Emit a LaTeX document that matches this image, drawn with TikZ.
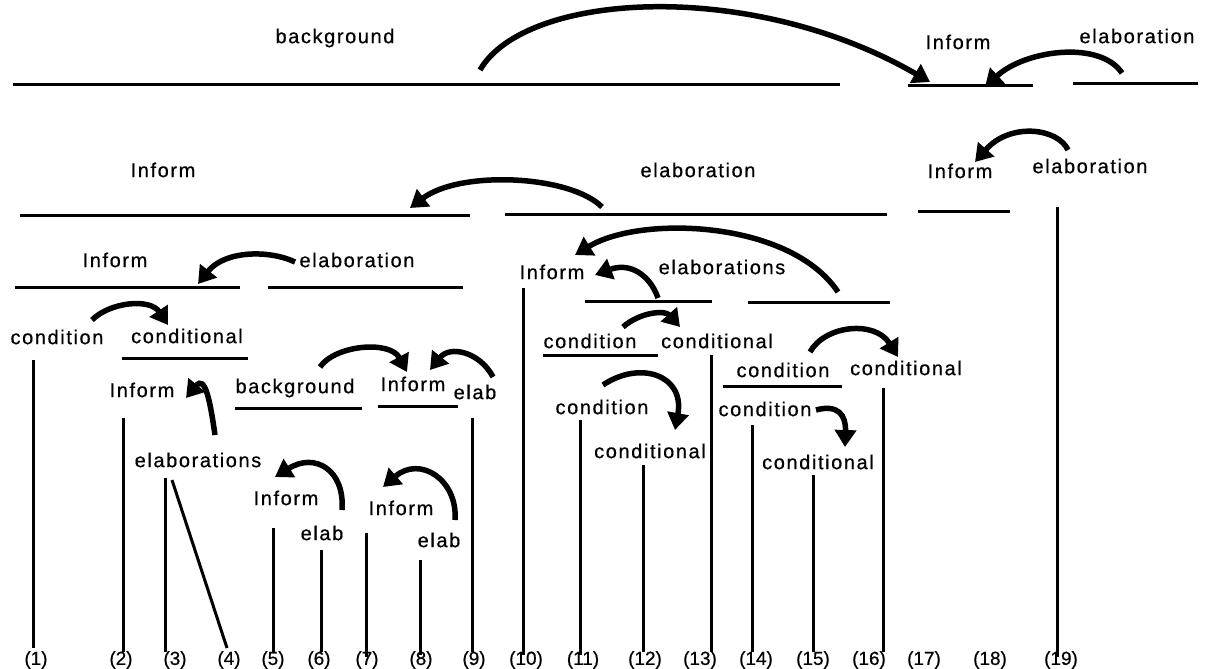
\documentclass[tikz,border=0pt]{standalone}
\usepackage{fontspec}
\setmainfont{Liberation Sans}[LetterSpace=8,FakeBold=0.6]
\newfontfamily\numfont{Liberation Sans}[FakeBold=0.6]
\usetikzlibrary{arrows.meta}

\begin{document}
\begin{tikzpicture}[x=1pt,y=-1pt,
  lbl/.style={inner sep=0pt,font=\fontsize{20}{24}\selectfont},
  num/.style={inner sep=0pt,font=\numfont\fontsize{19}{22}\selectfont},
  span/.style={line width=3pt},
  rel/.style={line width=5.5pt,-{Triangle[length=17pt,width=21pt]}}]
\useasboundingbox (0,0) rectangle (1205,669);

% ---- relation labels ----
\node[lbl] (t1)  at (335,38)  {background};
\node[lbl] (t2)  at (958,42)  {Inform};
\node[lbl] (t3)  at (1137,36) {elaboration};
\node[lbl] (t4)  at (163,170) {Inform};
\node[lbl] (t5)  at (698,170) {elaboration};
\node[lbl] (t6)  at (960,171) {Inform};
\node[lbl] (t7)  at (1090,166) {elaboration};
\node[lbl] (t8)  at (115,260) {Inform};
\node[lbl] (t9)  at (357,260) {elaboration};
\node[lbl] (t10) at (57,337)  {condition};
\node[lbl] (t11) at (187,336) {conditional};
\node[lbl] (t12) at (142,390) {Inform};
\node[lbl] (t13) at (295,388) {background};
\node[lbl] (t14) at (413,384) {Inform};
\node[lbl] (t15) at (475,392) {elab};
\node[lbl] (t16) at (198,460) {elaborations};
\node[lbl] (t17) at (286,498) {Inform};
\node[lbl] (t18) at (322,533) {elab};
\node[lbl] (t19) at (401,508) {Inform};
\node[lbl] (t20) at (439,540) {elab};
\node[lbl] (t21) at (552,272) {Inform};
\node[lbl] (t22) at (722,267) {elaborations};
\node[lbl] (t23) at (590,341) {condition};
\node[lbl] (t24) at (717,341) {conditional};
\node[lbl] (t25) at (602,407) {condition};
\node[lbl] (t26) at (650,451) {conditional};
\node[lbl] (t27) at (783,370) {condition};
\node[lbl] (t28) at (906,368) {conditional};
\node[lbl] (t29) at (765,409) {condition};
\node[lbl] (t30) at (818,462) {conditional};

% ---- span lines ----
\draw[span] (13,85) -- (840,85);
\draw[span] (908,86) -- (1033,86);
\draw[span] (1073,84) -- (1198,84);
\draw[span] (20,215) -- (470,215);
\draw[span] (505,214) -- (887,214);
\draw[span] (918,211) -- (1010,211);
\draw[span] (15,287) -- (240,287);
\draw[span] (268,287) -- (463,287);
\draw[span] (122,358) -- (248,358);
\draw[span] (235,408) -- (362,408);
\draw[span] (378,406) -- (458,406);
\draw[span] (585,301) -- (712,301);
\draw[span] (748,302) -- (890,302);
\draw[span] (543,355) -- (658,355);
\draw[span] (723,386) -- (842,386);

% ---- leaves ----
\draw[span] (33,360) -- (33,648);
\draw[span] (123,418) -- (123,652);
\draw[span] (165,478) -- (165,652);
\draw[span] (172,480) -- (227,648);
\draw[span] (273,528) -- (273,652);
\draw[span] (321,550) -- (321,652);
\draw[span] (366,533) -- (366,657);
\draw[span] (420,560) -- (420,655);
\draw[span] (472,418) -- (472,652);
\draw[span] (523,288) -- (523,655);
\draw[span] (580,420) -- (580,655);
\draw[span] (643,465) -- (643,652);
\draw[span] (711,355) -- (711,652);
\draw[span] (752,425) -- (752,652);
\draw[span] (813,475) -- (813,652);
\draw[span] (883,388) -- (883,652);
\draw[span] (1057,207) -- (1057,657);

% ---- relation arrows ----
\coordinate (a1s) at (480,70);   \coordinate (a1t) at (930,82);
\coordinate (a2s) at (1122,73);  \coordinate (a2t) at (985,87);
\coordinate (a3s) at (1068,150); \coordinate (a3t) at (975,162);
\coordinate (a4s) at (602,207);  \coordinate (a4t) at (410,208);
\coordinate (a5s) at (295,262);  \coordinate (a5t) at (198,284);
\coordinate (a6s) at (92,320);   \coordinate (a6t) at (168,325);
\coordinate (a7s) at (215,435);  \coordinate (a7t) at (186,398);
\coordinate (a8s) at (320,367);  \coordinate (a8t) at (407,372);
\coordinate (a9s) at (493,377);  \coordinate (a9t) at (430,370);
\coordinate (a10s) at (342,510); \coordinate (a10t) at (275,477);
\coordinate (a11s) at (455,520); \coordinate (a11t) at (383,487);
\coordinate (a12s) at (838,292); \coordinate (a12t) at (575,255);
\coordinate (a13s) at (658,298); \coordinate (a13t) at (595,275);
\coordinate (a14s) at (623,327); \coordinate (a14t) at (680,327);
\coordinate (a15s) at (603,385); \coordinate (a15t) at (675,430);
\coordinate (a16s) at (810,352); \coordinate (a16t) at (898,357);
\coordinate (a17s) at (816,410); \coordinate (a17t) at (845,447);

\draw[rel] (a1s) .. controls (525,-8) and (750,-22) .. (a1t);
\draw[rel] (a2s) .. controls (1100,40) and (1025,50) .. (a2t);
\draw[rel] (a3s) .. controls (1058,128) and (1010,122) .. (a3t);
\draw[rel] (a4s) .. controls (570,175) and (460,170) .. (a4t);
\draw[rel] (a5s) .. controls (270,250) and (225,250) .. (a5t);
\draw[rel] (a6s) .. controls (110,302) and (150,298) .. (a6t);
\draw[rel] (a7s) .. controls (210,400) and (205,375) .. (a7t);
\draw[rel] (a8s) .. controls (335,345) and (390,340) .. (a8t);
\draw[rel] (a9s) .. controls (480,352) and (450,345) .. (a9t);
\draw[rel] (a10s) .. controls (345,470) and (315,452) .. (a10t);
\draw[rel] (a11s) .. controls (458,480) and (420,455) .. (a11t);
\draw[rel] (a12s) .. controls (790,220) and (640,215) .. (a12t);
\draw[rel] (a13s) .. controls (650,275) and (630,262) .. (a13t);
\draw[rel] (a14s) .. controls (640,312) and (665,310) .. (a14t);
\draw[rel] (a15s) .. controls (640,360) and (685,375) .. (a15t);
\draw[rel] (a16s) .. controls (825,325) and (875,320) .. (a16t);
\draw[rel] (a17s) .. controls (838,404) and (846,415) .. (a17t);

% ---- leaf numbers ----
\foreach \x/\n in {36/1,121/2,175/3,229/4,273/5,319/6,367/7,421/8,474/9,526/10,
                   583/11,645/12,700/13,756/14,813/15,869/16,924/17,990/18,1061/19}
  \node[num] (n\n) at (\x,660) {(\n)};
\end{tikzpicture}
\end{document}
